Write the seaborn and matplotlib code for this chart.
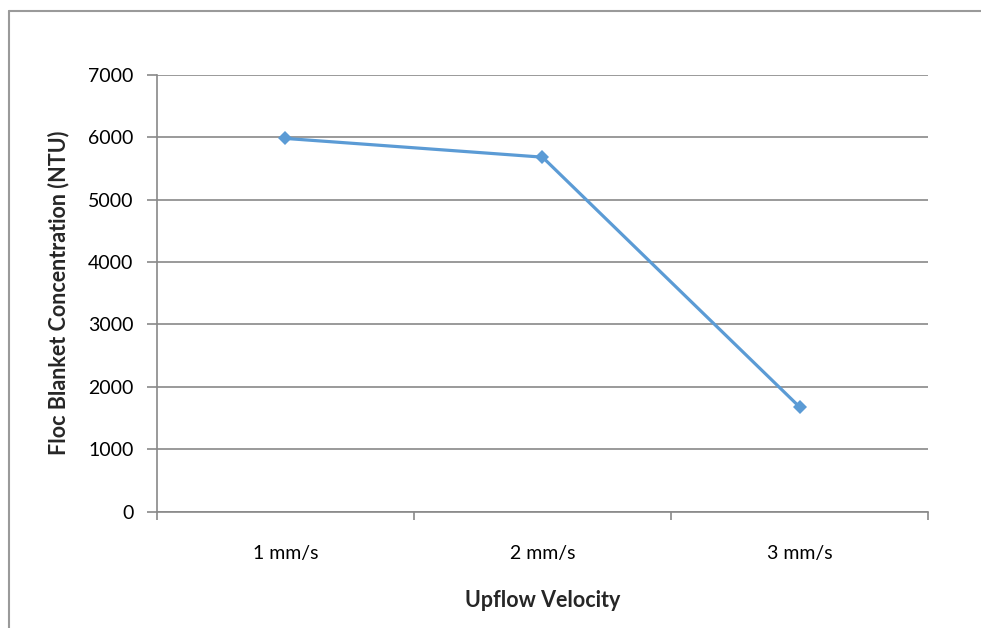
import matplotlib
matplotlib.use("Agg")
import matplotlib.pyplot as plt
from matplotlib.lines import Line2D
import seaborn as sns
import pandas as pd

velocities = ["1 mm/s", "2 mm/s", "3 mm/s"]
concentration_ntu = [5980, 5680, 1680]
y_ticks = [0, 1000, 2000, 3000, 4000, 5000, 6000, 7000]

sns.set_theme(style="white")
plt.rcParams["font.family"] = ["Lato", "DejaVu Sans"]

df = pd.DataFrame({"Velocity": velocities, "NTU": concentration_ntu})

fig = plt.figure(figsize=(9.81, 6.28), dpi=100)
ax = fig.add_axes([0.160, 0.185, 0.786, 0.696])

grid_col = "#898989"
line_col = "#5B9BD5"

sns.lineplot(data=df, x="Velocity", y="NTU", ax=ax, color=line_col,
             linewidth=2.3, marker="D", markersize=7, markeredgewidth=0,
             sort=False)

ax.set_xlim(-0.5, len(velocities) - 0.5)
ax.set_ylim(0, 7000)
ax.set_yticks(y_ticks)
ax.set_yticklabels([str(v) for v in y_ticks])
ax.yaxis.grid(True, color=grid_col, linewidth=1.2)
ax.set_axisbelow(True)

# category labels centred, tick marks at the category boundaries
ax.set_xticks(range(len(velocities)))
ax.set_xticklabels(velocities)
ax.set_xticks([i - 0.5 for i in range(len(velocities) + 1)], minor=True)
ax.tick_params(axis="x", which="major", length=0, pad=24, labelsize=14, colors="#000000")
ax.tick_params(axis="x", which="minor", length=6, width=1.2, color=grid_col, direction="out", bottom=True)
ax.tick_params(axis="y", which="major", length=7, width=1.2, color=grid_col, direction="out",
               left=True, pad=10, labelsize=14, colors="#000000")

for side in ["top", "right"]:
    ax.spines[side].set_visible(False)
for side in ["left", "bottom"]:
    ax.spines[side].set_color(grid_col)
    ax.spines[side].set_linewidth(1.2)

ax.set_xlabel("Upflow Velocity", fontsize=15.5, fontweight="bold", labelpad=20)
ax.set_ylabel("Floc Blanket Concentration (NTU)", fontsize=15.5, fontweight="bold", labelpad=13)

# chart area frame: left and top edges
fx, fy = 8.5 / 981, 1 - 10.5 / 628
frame_kw = dict(transform=fig.transFigure, color="#9a9a9a", linewidth=1.5)
fig.lines.append(Line2D([fx, fx], [0, fy], **frame_kw))
fig.lines.append(Line2D([fx, 1], [fy, fy], **frame_kw))

fig.savefig("out.png", dpi=100)
